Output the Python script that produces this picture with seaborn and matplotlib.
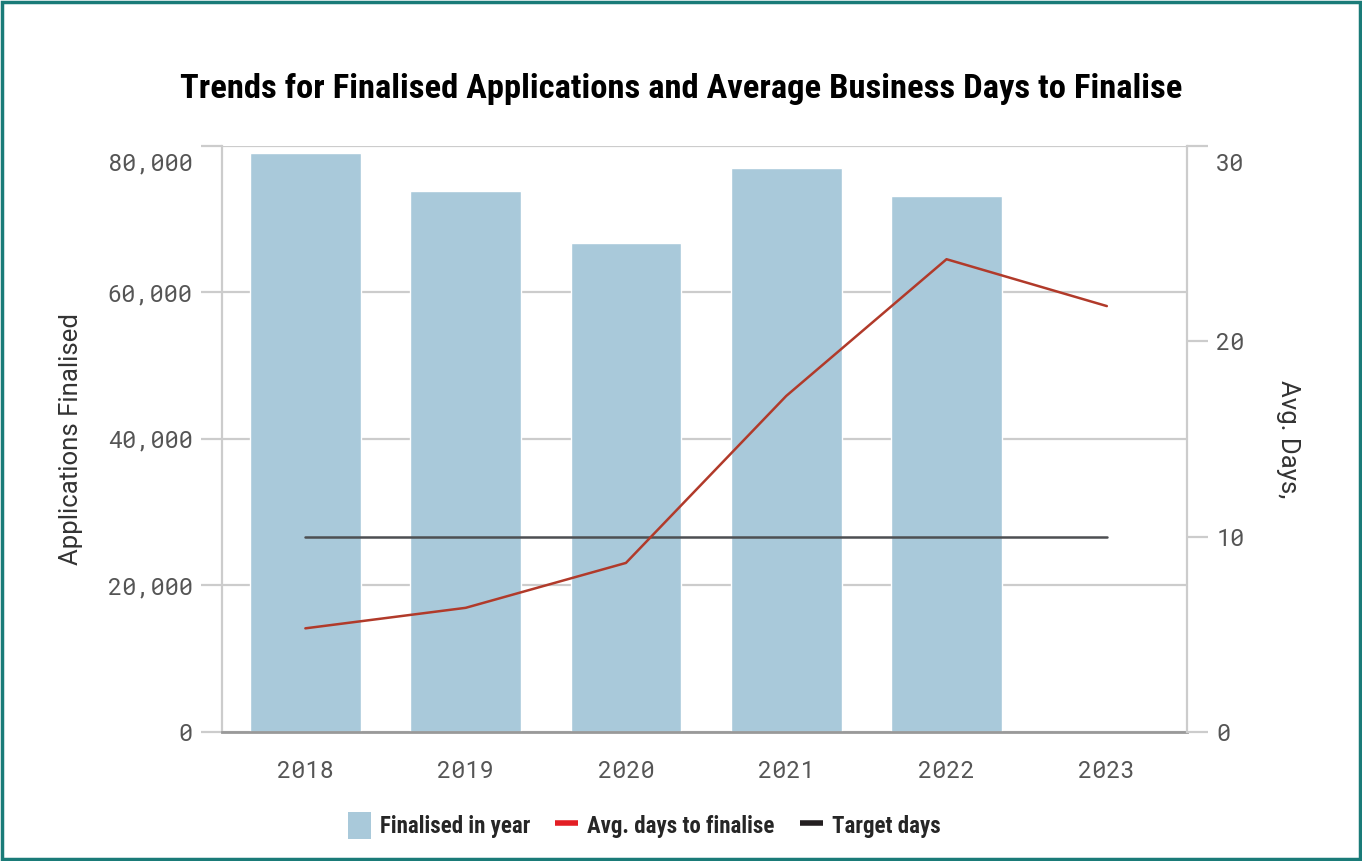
import pandas as pd
import matplotlib.pyplot as plt
import seaborn as sns
from matplotlib.patches import Patch, Rectangle
from matplotlib.lines import Line2D
from matplotlib.ticker import FuncFormatter
from matplotlib.transforms import ScaledTranslation

# ----------------------------------------------------------------------------------
# Data
# ----------------------------------------------------------------------------------
years = ["2018", "2019", "2020", "2021", "2022", "2023"]
finalised = [79000, 73900, 66800, 77000, 73200, 0]
avg_days = [5.3, 6.35, 8.65, 17.2, 24.2, 21.8]
target_days = [10, 10, 10, 10, 10, 10]

left_ticks = [0, 20000, 40000, 60000, 80000]
right_ticks = [0, 10, 20, 30]

BAR_COLOR = "#a9c9da"
AVG_COLOR = "#b13a2a"
TARGET_COLOR = "#4d4f52"
GRID_COLOR = "#cccccc"
TICK_TEXT = "#555555"
FRAME_COLOR = "#1a7b78"

df = pd.DataFrame({"year": years, "finalised": finalised,
                   "avg_days": avg_days, "target": target_days})

# ----------------------------------------------------------------------------------
# Plot
# ----------------------------------------------------------------------------------
sns.set_theme(style="white")
plt.rcParams["font.family"] = ["Roboto", "DejaVu Sans"]

COND = ["Roboto Condensed", "Fira Sans Condensed", "Archivo Narrow", "DejaVu Sans"]
MONO = ["Roboto Mono", "JetBrains Mono", "DejaVu Sans Mono"]

fig = plt.figure(figsize=(13.62, 8.61), dpi=100)
ax = fig.add_axes([0.163, 0.150, 0.7085, 0.6805])

sns.barplot(data=df, x="year", y="finalised", color=BAR_COLOR, width=0.69,
            saturation=1, ax=ax, zorder=2)
ax.set_xlim(-0.52, 5.5)
ax.set_ylim(0, 80000)
ax.set_yticks(left_ticks)
ax.yaxis.set_major_formatter(FuncFormatter(lambda v, _: f"{int(v):,}"))
ax.grid(axis="y", color=GRID_COLOR, linewidth=1.6, zorder=0)
ax.set_axisbelow(True)

ax2 = ax.twinx()
sns.lineplot(data=df, x="year", y="avg_days", color=AVG_COLOR, linewidth=1.8,
             ax=ax2, zorder=4)
sns.lineplot(data=df, x="year", y="target", color=TARGET_COLOR, linewidth=1.8,
             ax=ax2, zorder=3)
ax2.set_ylim(0, 30)
ax2.set_yticks(right_ticks)
ax2.grid(False)

for a in (ax, ax2):
    a.tick_params(axis="both", labelsize=17, labelcolor=TICK_TEXT, color=GRID_COLOR,
                  length=15, width=1.6)
    for lab in a.get_xticklabels() + a.get_yticklabels():
        lab.set_family(MONO)
        lab.set_fontweight("light")
    for s in a.spines.values():
        s.set_visible(False)
    a.set_xlabel("")

ax.tick_params(axis="x", length=0, pad=20)
ax.tick_params(axis="y", pad=6)
ax2.tick_params(axis="y", pad=6)
ax.spines["left"].set_visible(True)
ax.spines["left"].set_color(GRID_COLOR)
ax.spines["left"].set_linewidth(1.6)
ax.spines["bottom"].set_visible(True)
ax.spines["bottom"].set_color("#999999")
ax.spines["bottom"].set_linewidth(2)
ax2.spines["right"].set_visible(True)
ax2.spines["right"].set_color(GRID_COLOR)
ax2.spines["right"].set_linewidth(1.6)

# top tick labels sit a bit below their ticks in the reference
shift = ScaledTranslation(0, -16 / 100, fig.dpi_scale_trans)
for a in (ax, ax2):
    top = a.yaxis.get_major_ticks()[-1].label1 if a is ax else a.yaxis.get_major_ticks()[-1].label2
    top.set_transform(top.get_transform() + shift)

ax.set_ylabel("Applications Finalised", fontsize=18.5, color="#333333", labelpad=18)
ax2.set_ylabel("Avg. Days,", fontsize=18.5, color="#333333", rotation=270, labelpad=40)

fig.text(0.5, 0.897, "Trends for Finalised Applications and Average Business Days to Finalise",
         ha="center", va="center", fontsize=24.8, fontweight="bold", family=COND,
         color="#000000")

handles = [
    Patch(facecolor=BAR_COLOR, edgecolor="none", label="Finalised in year"),
    Line2D([0], [0], color="#e31e24", linewidth=4, solid_capstyle="butt",
           label="Avg. days to finalise"),
    Line2D([0], [0], color="#231f20", linewidth=4, solid_capstyle="butt",
           label="Target days"),
]
fig.legend(handles=handles, loc="center", bbox_to_anchor=(0.473, 0.041), ncol=3,
           frameon=False, handlelength=1.0, handleheight=1.4, handletextpad=0.4,
           columnspacing=1.1, prop={"family": COND, "weight": "bold", "size": 16.5})

fig.patches.append(Rectangle((0.0015, 0.0025), 0.997, 0.995, transform=fig.transFigure,
                             fill=False, edgecolor=FRAME_COLOR, linewidth=2.5))

fig.savefig("out.png", dpi=100)
plt.close(fig)
